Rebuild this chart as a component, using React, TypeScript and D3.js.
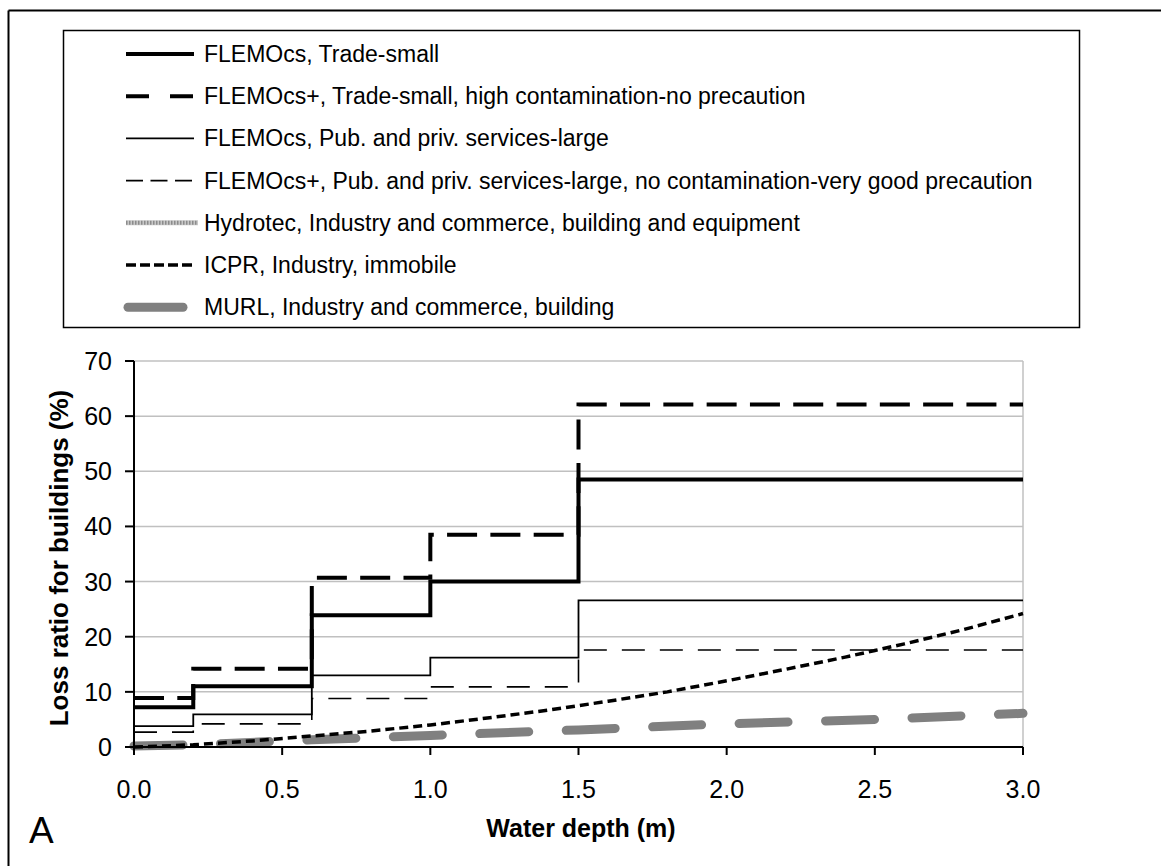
import React from "react";
import * as d3 from "d3";

type Pt = [number, number];

// Step functions: values hold between consecutive step edges
const stepEdges = [0, 0.2, 0.6, 1.0, 1.5, 3.0];
const flemoTradeSmall = [7.2, 11.0, 23.9, 30.0, 48.5];
const flemoPlusTradeSmall = [8.9, 14.2, 30.7, 38.5, 62.1];
const flemoPubLarge = [3.8, 5.9, 13.0, 16.2, 26.6];
const flemoPlusPubLarge = [2.7, 4.2, 8.8, 10.9, 17.6];

const hydrotec: Pt[] = [];
const icpr: Pt[] = [
  [0, 0], [0.2, 0.4], [0.4, 1.1], [0.6, 2.0], [0.8, 2.9], [1.0, 4.0],
  [1.2, 5.3], [1.4, 6.7], [1.5, 7.5], [1.6, 8.3], [1.8, 10.0], [2.0, 12.0],
  [2.2, 14.1], [2.4, 16.3], [2.5, 17.5], [2.6, 18.7], [2.8, 21.3], [3.0, 24.2],
];
const murl: Pt[] = [
  [0, 0.2], [0.2, 0.4], [0.6, 1.3], [1.0, 2.1], [1.5, 3.1], [2.0, 4.2], [2.5, 5.0], [3.0, 6.1],
];

const legendLabels = [
  "FLEMOcs, Trade-small",
  "FLEMOcs+, Trade-small, high contamination-no precaution",
  "FLEMOcs, Pub. and priv. services-large",
  "FLEMOcs+, Pub. and priv. services-large, no contamination-very good precaution",
  "Hydrotec, Industry and commerce, building and equipment",
  "ICPR, Industry, immobile",
  "MURL, Industry and commerce, building",
];

const xTicks = [0, 0.5, 1.0, 1.5, 2.0, 2.5, 3.0];
const yTicks = [0, 10, 20, 30, 40, 50, 60, 70];

const W = 1161;
const H = 866;
const plot = { left: 134, right: 1023, top: 361, bottom: 747 };

const FONT = "'Liberation Sans', Arial, sans-serif";

function toSteps(vals: number[]): Pt[] {
  const pts: Pt[] = [];
  vals.forEach((v, i) => {
    pts.push([stepEdges[i], v]);
    pts.push([stepEdges[i + 1], v]);
  });
  return pts;
}

type Style = {
  stroke: string;
  width: number;
  dash?: string;
  legendDash?: string;
  cap?: "butt" | "round";
};

const styles: Style[] = [
  { stroke: "#000", width: 4 },
  { stroke: "#000", width: 4, dash: "30 13.3", legendDash: "23 21" },
  { stroke: "#000", width: 1.8 },
  { stroke: "#000", width: 1.6, dash: "23 15", legendDash: "17 7.5" },
  { stroke: "#a6a6a6", width: 5 },
  { stroke: "#000", width: 3.5, dash: "9 5", legendDash: "10 4" },
  { stroke: "#808080", width: 9, dash: "49 37.5", legendDash: "none", cap: "round" },
];

export default function App() {
  const x = d3.scaleLinear().domain([0, 3]).range([plot.left, plot.right]);
  const y = d3.scaleLinear().domain([0, 70]).range([plot.bottom, plot.top]);
  const line = d3.line<Pt>().x((d) => x(d[0])).y((d) => y(d[1]));

  const seriesData: Pt[][] = [
    toSteps(flemoTradeSmall),
    toSteps(flemoPlusTradeSmall),
    toSteps(flemoPubLarge),
    toSteps(flemoPlusPubLarge),
    hydrotec,
    icpr,
    murl,
  ];
  const drawOrder = [4, 6, 5, 3, 2, 0, 1];

  const legendTop = 54;
  const legendStep = 42.2;
  const sx0 = 126;
  const sx1 = 194;

  return (
    <svg
      width={W}
      height={H}
      style={{ position: "absolute", left: 0, top: 0, background: "#fff" }}
      fontFamily={FONT}
    >
      <rect x={0} y={0} width={W} height={H} fill="#fff" />
      {/* outer frame (cropped) */}
      <line x1={8.5} y1={10.5} x2={W} y2={10.5} stroke="#000" strokeWidth={2} />
      <line x1={8.5} y1={10.5} x2={8.5} y2={H} stroke="#000" strokeWidth={2} />

      {/* legend */}
      <rect x={63.5} y={30.5} width={1016} height={297} fill="#fff" stroke="#000" strokeWidth={1.5} />
      {legendLabels.map((lab, i) => {
        const cy = legendTop + i * legendStep;
        const s = styles[i];
        return (
          <g key={lab}>
            {i === 4 ? (
              <g>
                <line x1={sx0} x2={sx1 + 4} y1={cy} y2={cy} stroke="#c8c8c8" strokeWidth={5} />
                <line x1={sx0} x2={sx1 + 4} y1={cy} y2={cy} stroke="#8c8c8c" strokeWidth={4} strokeDasharray="1.5 1.5" />
              </g>
            ) : (
              <line
                x1={i === 6 ? 128 : sx0}
                x2={i === 6 ? 183 : sx1}
                y1={cy}
                y2={cy}
                stroke={s.stroke}
                strokeWidth={s.width}
                strokeDasharray={s.legendDash && s.legendDash !== "none" ? s.legendDash : undefined}
                strokeLinecap={s.cap || "butt"}
              />
            )}
            <text x={204} y={cy} dy="0.35em" fontSize={23} fill="#000">
              {lab}
            </text>
          </g>
        );
      })}

      {/* gridlines */}
      {yTicks.filter((t) => t > 0).map((t) => (
        <line key={t} x1={plot.left} x2={plot.right} y1={y(t)} y2={y(t)} stroke="#c0c0c0" strokeWidth={1.5} />
      ))}
      <line x1={plot.right} x2={plot.right} y1={plot.top} y2={plot.bottom} stroke="#c0c0c0" strokeWidth={1.5} />

      {/* series */}
      {drawOrder.map((i) => {
        const d = seriesData[i];
        if (!d.length) return null;
        const s = styles[i];
        return (
          <path
            key={i}
            d={line(d) || ""}
            fill="none"
            stroke={s.stroke}
            strokeWidth={s.width}
            strokeDasharray={s.dash}
            strokeLinecap={s.cap || "butt"}
            strokeLinejoin="miter"
          />
        );
      })}

      {/* axes */}
      <line x1={plot.left} x2={plot.left} y1={plot.top} y2={plot.bottom} stroke="#000" strokeWidth={2} />
      <line x1={plot.left} x2={plot.right} y1={plot.bottom} y2={plot.bottom} stroke="#000" strokeWidth={2} />
      {yTicks.map((t) => (
        <g key={t}>
          <line x1={plot.left - 9} x2={plot.left} y1={y(t)} y2={y(t)} stroke="#000" strokeWidth={2} />
          <text x={112} y={y(t)} dy="0.36em" textAnchor="end" fontSize={25}>
            {d3.format("d")(t)}
          </text>
        </g>
      ))}
      {xTicks.map((t) => (
        <g key={t}>
          <line x1={x(t)} x2={x(t)} y1={plot.bottom} y2={plot.bottom + 8} stroke="#000" strokeWidth={2} />
          <text x={x(t)} y={798} textAnchor="middle" fontSize={25}>
            {d3.format(".1f")(t)}
          </text>
        </g>
      ))}

      {/* axis titles */}
      <text x={581} y={837} textAnchor="middle" fontSize={25} fontWeight="bold">
        Water depth (m)
      </text>
      <text
        transform={`translate(68, 558) rotate(-90)`}
        textAnchor="middle"
        fontSize={26}
        fontWeight="bold"
      >
        Loss ratio for buildings (%)
      </text>
      <text x={29} y={843} fontSize={37}>
        A
      </text>
    </svg>
  );
}
